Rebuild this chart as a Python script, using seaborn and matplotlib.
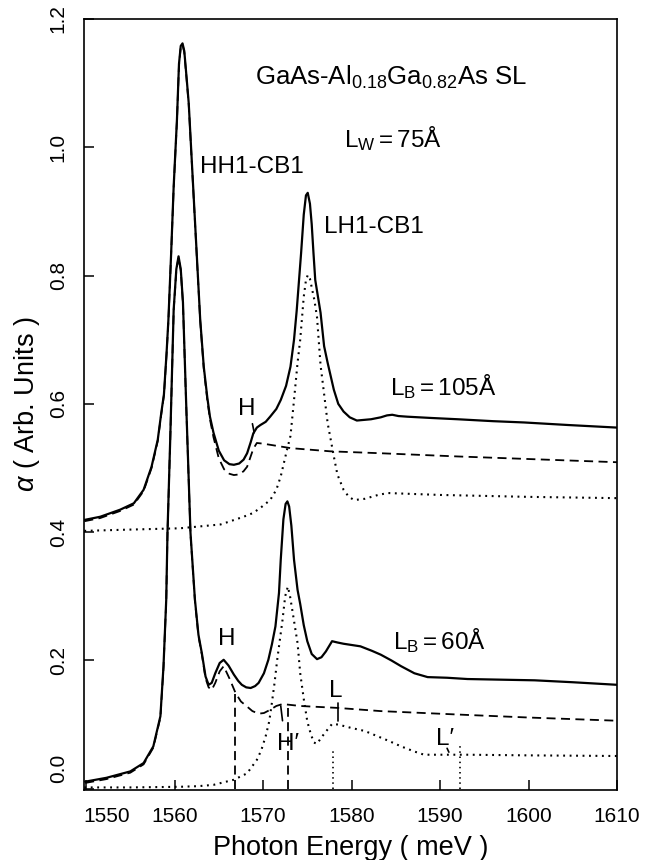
import matplotlib
matplotlib.use("Agg")
import numpy as np
import pandas as pd
import seaborn as sns
import matplotlib.pyplot as plt
from matplotlib.transforms import ScaledTranslation

# ---------------- data ----------------
# L_B = 105 A : total absorption (solid)
up_solid_x = [1549.8, 1551.6, 1553.85, 1555.4, 1556.5, 1557.4, 1558.1, 1558.5, 1558.8, 1559.1,
              1559.3, 1559.6, 1559.9, 1560.27, 1560.5, 1560.7, 1560.9, 1561.1, 1561.35, 1561.6,
              1562.0, 1562.5, 1562.9, 1563.3, 1563.7, 1564.0, 1564.4, 1565.0, 1565.6, 1566.2,
              1566.7, 1567.3, 1567.8, 1568.2, 1568.6, 1568.9, 1569.3, 1569.7, 1570.3, 1570.8,
              1571.5, 1572.0, 1572.6, 1573.1, 1573.5, 1573.8, 1574.3, 1574.6, 1574.85, 1575.05,
              1575.3, 1575.5, 1575.7, 1575.9, 1576.5, 1576.9, 1577.3, 1578.0, 1578.5, 1579.1,
              1579.8, 1580.6, 1581.4, 1582.2, 1583.3, 1584.0, 1584.6, 1585.3, 1586.3, 1589.0,
              1592.0, 1596.0, 1599.5, 1604.5, 1610.0]
up_solid_y = [0.419, 0.424, 0.435, 0.445, 0.466, 0.502, 0.544, 0.586, 0.615, 0.680,
              0.730, 0.830, 0.939, 1.043, 1.130, 1.158, 1.162, 1.150, 1.110, 1.069,
              0.965, 0.835, 0.731, 0.658, 0.610, 0.580, 0.555, 0.527, 0.512, 0.506,
              0.505, 0.507, 0.513, 0.523, 0.540, 0.554, 0.563, 0.567, 0.572, 0.580,
              0.592, 0.606, 0.628, 0.658, 0.700, 0.745, 0.835, 0.895, 0.925, 0.929,
              0.912, 0.880, 0.835, 0.793, 0.742, 0.690, 0.664, 0.622, 0.600, 0.588,
              0.579, 0.574, 0.575, 0.576, 0.579, 0.582, 0.583, 0.581, 0.580, 0.578,
              0.576, 0.573, 0.571, 0.567, 0.563]
# L_B = 105 A : HH1 contribution (dashed)
up_dash_x = [1549.8, 1551.6, 1553.85, 1555.4, 1556.5, 1557.4, 1558.1, 1558.5, 1558.8, 1559.1,
             1559.3, 1559.6, 1559.9, 1560.27, 1560.5, 1560.7, 1560.9, 1561.1, 1561.35, 1561.6,
             1562.0, 1562.5, 1562.9, 1563.3, 1563.7, 1564.0, 1564.4, 1565.0, 1565.6, 1566.2,
             1566.7, 1567.3, 1567.8, 1568.2, 1568.6, 1568.9, 1569.3, 1570.0, 1573.1, 1577.6,
             1583.3, 1592.0, 1600.0, 1610.0]
up_dash_y = [0.417, 0.422, 0.433, 0.443, 0.464, 0.500, 0.542, 0.584, 0.613, 0.678,
             0.728, 0.828, 0.937, 1.041, 1.128, 1.156, 1.160, 1.148, 1.108, 1.067,
             0.963, 0.833, 0.729, 0.655, 0.606, 0.576, 0.548, 0.515, 0.498, 0.491,
             0.489, 0.490, 0.495, 0.502, 0.518, 0.530, 0.539, 0.538, 0.531, 0.526,
             0.523, 0.518, 0.514, 0.509]
# L_B = 105 A : LH1 contribution (dotted)
up_dot_x = [1549.8, 1555.0, 1560.6, 1565.2, 1566.3, 1567.8, 1568.9, 1569.9, 1570.8, 1571.5,
            1572.0, 1572.7, 1573.1, 1573.5, 1573.9, 1574.2, 1574.6, 1574.85, 1575.06, 1575.3,
            1575.6, 1575.8, 1576.1, 1576.5, 1576.7, 1577.3, 1578.0, 1578.4, 1579.1, 1579.7,
            1580.3, 1581.5, 1583.0, 1584.1, 1586.0, 1590.0, 1600.0, 1610.0]
up_dot_y = [0.402, 0.404, 0.406, 0.412, 0.417, 0.424, 0.430, 0.440, 0.450, 0.466,
            0.487, 0.528, 0.550, 0.606, 0.664, 0.700, 0.767, 0.793, 0.801, 0.795,
            0.775, 0.762, 0.735, 0.660, 0.638, 0.570, 0.518, 0.490, 0.466, 0.455,
            0.450, 0.452, 0.458, 0.461, 0.460, 0.458, 0.455, 0.453]

# L_B = 60 A : total absorption (solid)
lo_solid_x = [1549.9, 1552.3, 1555.0, 1556.5, 1557.6, 1558.4, 1558.75, 1559.06, 1559.2, 1559.5,
              1559.9, 1560.2, 1560.45, 1560.7, 1560.95, 1561.3, 1561.8, 1562.3, 1562.7, 1563.1,
              1563.5, 1563.85, 1564.2, 1564.6, 1565.1, 1565.55, 1566.1, 1566.7, 1567.2, 1567.6,
              1568.1, 1568.6, 1569.1, 1569.5, 1570.1, 1570.6, 1571.0, 1571.4, 1571.8, 1572.0,
              1572.3, 1572.55, 1572.75, 1572.95, 1573.2, 1573.5, 1573.9, 1574.2, 1574.6, 1575.0,
              1575.5, 1576.1, 1576.6, 1577.1, 1577.8, 1578.4, 1579.1, 1581.0, 1582.3, 1583.3,
              1584.5, 1585.6, 1587.1, 1588.6, 1590.8, 1593.1, 1600.7, 1605.0, 1610.0]
lo_solid_y = [0.011, 0.017, 0.027, 0.040, 0.066, 0.113, 0.191, 0.295, 0.399, 0.540,
              0.747, 0.810, 0.830, 0.810, 0.758, 0.606, 0.399, 0.295, 0.240, 0.210,
              0.175, 0.162, 0.165, 0.180, 0.196, 0.201, 0.192, 0.178, 0.168, 0.162,
              0.158, 0.157, 0.160, 0.165, 0.180, 0.201, 0.225, 0.253, 0.305, 0.357,
              0.420, 0.444, 0.448, 0.440, 0.410, 0.357, 0.310, 0.288, 0.255, 0.230,
              0.210, 0.202, 0.205, 0.214, 0.230, 0.228, 0.226, 0.222, 0.215, 0.209,
              0.200, 0.191, 0.180, 0.174, 0.173, 0.171, 0.169, 0.166, 0.162]
# L_B = 60 A : HH1 contribution (dashed)
lo_dash_x = [1549.9, 1552.3, 1555.0, 1556.5, 1557.6, 1558.4, 1558.75, 1559.06, 1559.2, 1559.5,
             1559.9, 1560.2, 1560.45, 1560.7, 1560.95, 1561.3, 1561.8, 1562.3, 1562.7, 1563.1,
             1563.5, 1563.85, 1564.2, 1564.6, 1565.1, 1565.55, 1566.2, 1566.9, 1567.5, 1568.2,
             1568.8, 1569.5, 1570.1, 1570.8, 1571.5, 1572.2, 1574.2, 1578.4, 1583.3, 1593.1,
             1600.0, 1610.0]
lo_dash_y = [0.009, 0.015, 0.025, 0.038, 0.064, 0.111, 0.189, 0.293, 0.397, 0.538,
             0.745, 0.808, 0.828, 0.808, 0.756, 0.604, 0.397, 0.293, 0.238, 0.208,
             0.172, 0.158, 0.154, 0.165, 0.183, 0.191, 0.172, 0.149, 0.136, 0.128,
             0.121, 0.117, 0.118, 0.123, 0.129, 0.132, 0.129, 0.126, 0.121, 0.115,
             0.111, 0.106]
# L_B = 60 A : LH1 contribution (dotted)
lo_dot_x = [1549.8, 1555.0, 1560.6, 1562.7, 1564.4, 1566.7, 1568.2, 1569.3, 1569.8, 1570.3,
            1570.7, 1571.0, 1571.3, 1571.6, 1572.2, 1572.5, 1572.8, 1573.05, 1573.3, 1573.9,
            1574.2, 1574.6, 1575.0, 1575.4, 1575.75, 1576.1, 1576.6, 1577.1, 1577.8, 1578.5,
            1579.9, 1581.5, 1582.9, 1584.3, 1585.6, 1587.1, 1588.2, 1593.1, 1600.0, 1610.0]
lo_dot_y = [0.002, 0.002, 0.003, 0.004, 0.006, 0.014, 0.024, 0.045, 0.060, 0.082,
            0.105, 0.134, 0.165, 0.201, 0.263, 0.300, 0.315, 0.300, 0.279, 0.227,
            0.180, 0.140, 0.105, 0.085, 0.072, 0.070, 0.080, 0.089, 0.101, 0.100,
            0.095, 0.090, 0.082, 0.074, 0.066, 0.058, 0.053, 0.053, 0.052, 0.051]

# marker positions (vertical drop lines)
drop_dash_x = [1566.8, 1572.8]
drop_dash_top = [0.147, 0.126]
drop_dot_x = [1577.9, 1592.3]
drop_dot_top = [0.064, 0.067]

# small pointer ticks next to labels
pointer_up_H = ([1568.8, 1569.0], [0.569, 0.555])
pointer_Hp = ([1572.0, 1572.2], [0.129, 0.106])
pointer_L = ([1578.5, 1578.5], [0.133, 0.106])
pointer_Lp = ([1590.8, 1591.0], [0.063, 0.057])

x_ticks = [1550, 1560, 1570, 1580, 1590, 1600, 1610]
y_ticks = [0.0, 0.2, 0.4, 0.6, 0.8, 1.0, 1.2]

# ---------------- style ----------------
sns.set_theme(style="white")
plt.rcParams["font.family"] = ["Liberation Sans", "DejaVu Sans"]
plt.rcParams["mathtext.fontset"] = "custom"
plt.rcParams["mathtext.rm"] = "Liberation Sans"
plt.rcParams["mathtext.it"] = "Liberation Sans:italic"
plt.rcParams["mathtext.bf"] = "Liberation Sans:bold"

fig = plt.figure(figsize=(6.47, 8.6), dpi=100)
fig.patch.set_facecolor("white")
ax = fig.add_axes([84.3 / 647, 1 - 790 / 860, 532.7 / 647, 771 / 860])
ax.set_facecolor("white")

K = "black"
solid_kw = dict(color=K, lw=1.6, linestyle="-")
dash_kw = dict(color=K, lw=1.3, linestyle=(0, (5, 3)))
dot_kw = dict(color=K, lw=1.5, linestyle=(0, (0.9, 2.2)))

for xs, ys, kw in [
    (up_solid_x, up_solid_y, solid_kw),
    (up_dash_x, up_dash_y, dash_kw),
    (up_dot_x, up_dot_y, dot_kw),
    (lo_solid_x, lo_solid_y, solid_kw),
    (lo_dash_x, lo_dash_y, dash_kw),
    (lo_dot_x, lo_dot_y, dot_kw),
]:
    df = pd.DataFrame({"E": xs, "a": ys})
    sns.lineplot(data=df, x="E", y="a", ax=ax, sort=False, estimator=None, **kw)

ax.vlines(drop_dash_x, 0, drop_dash_top, colors=K, lw=1.3, linestyles=[(0, (5, 3))])
ax.vlines(drop_dot_x, 0, drop_dot_top, colors=K, lw=1.2, linestyles=[(0, (0.9, 2.2))])
for px, py in [pointer_up_H, pointer_Hp, pointer_L, pointer_Lp]:
    ax.plot(px, py, color=K, lw=1.2)

ax.set_xlim(1549.8, 1610.0)
ax.set_ylim(-0.002, 1.2)
ax.set_xticks(x_ticks)
ax.set_yticks(y_ticks)
ax.set_xticklabels([str(t) for t in x_ticks])
ax.set_yticklabels([f"{t:.1f}" for t in y_ticks])

for s in ax.spines.values():
    s.set_color(K)
    s.set_linewidth(1.2)
ax.tick_params(axis="both", which="major", direction="in", length=7, width=1.1,
               colors=K, labelsize=15, pad=12, top=False, right=False,
               bottom=True, left=True)
ax.tick_params(axis="y", labelrotation=90)
for lab in ax.get_yticklabels():
    lab.set_va("center")
    lab.set_ha("right")

ax.set_xlabel("Photon Energy ( meV )", fontsize=19.5, color=K, labelpad=7)
ax.set_ylabel(r"$\alpha$ ( Arb. Units )", fontsize=19.5, color=K, labelpad=5)

# shift the origin labels away from the corner, as in the reference
xt = ax.xaxis.get_major_ticks()[0].label1
xt.set_transform(xt.get_transform() + ScaledTranslation(0.21, 0, fig.dpi_scale_trans))
yt = ax.yaxis.get_major_ticks()[0].label1
yt.set_transform(yt.get_transform() + ScaledTranslation(0, 0.20, fig.dpi_scale_trans))

# ---------------- annotations ----------------
tk = dict(color=K, ha="left", va="baseline", fontsize=17.5)
ax.text(1569.14, 1.0975, r"GaAs-Al$_{\mathrm{0.18}}$Ga$_{\mathrm{0.82}}$As SL",
        **{**tk, "fontsize": 18.5})
ax.text(1579.1, 1.001, r"L$_{\mathrm{W}}=$75Å", **tk)
ax.text(1562.9, 0.960, "HH1-CB1", **tk)
ax.text(1576.85, 0.867, "LH1-CB1", **tk)
ax.text(1584.4, 0.614, r"L$_{\mathrm{B}}=$105Å", **tk)
ax.text(1567.2, 0.583, "H", **tk)
ax.text(1564.95, 0.2245, "H", **tk)
ax.text(1584.7, 0.218, r"L$_{\mathrm{B}}=$60Å", **tk)
ax.text(1577.5, 0.1434, "L", **tk)
ax.text(1571.6, 0.061, "H\u2032", **tk)
ax.text(1589.5, 0.0686, "L\u2032", **tk)

fig.savefig("out.png", dpi=100, facecolor="white")
